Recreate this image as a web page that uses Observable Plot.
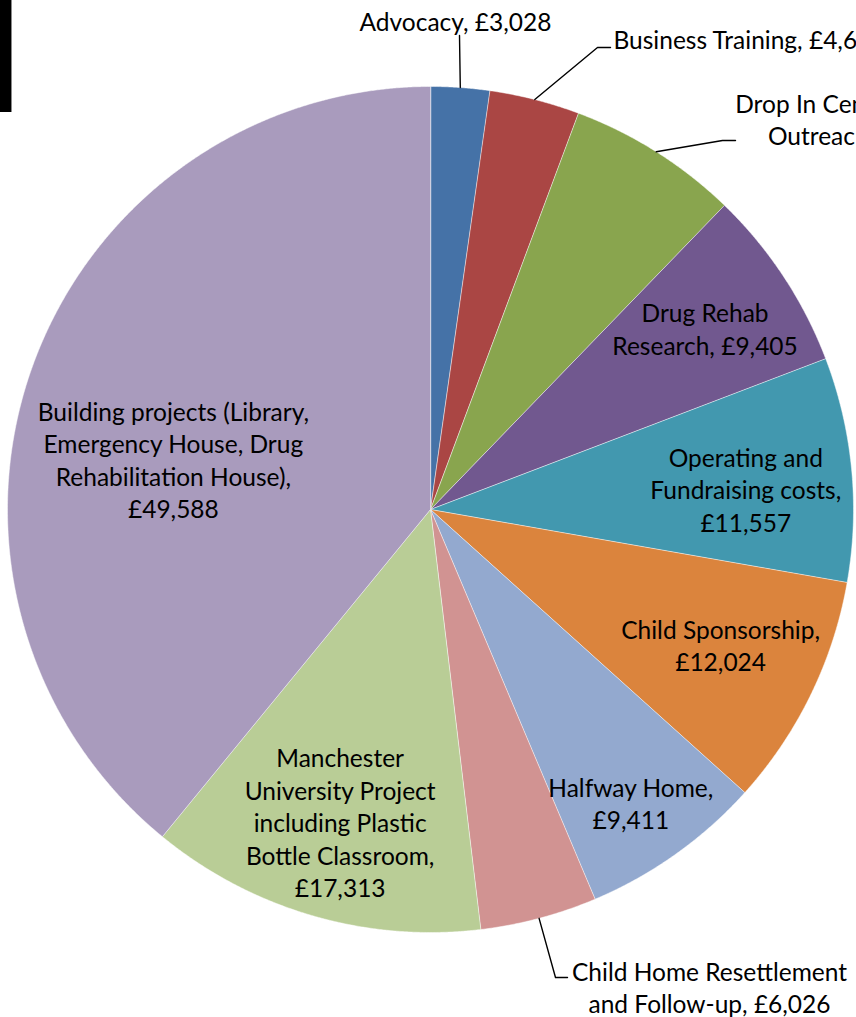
<!DOCTYPE html>
<html><head><meta charset="utf-8">
<script src="https://cdn.jsdelivr.net/npm/d3@7"></script>
<script src="https://cdn.jsdelivr.net/npm/@observablehq/plot@0.6"></script>
<style>
html,body{margin:0;padding:0;overflow:hidden;background:#fff;}
#chart{position:relative;width:856px;height:1017px;overflow:hidden;}
#bar{position:absolute;left:0;top:0;width:11px;height:112px;background:#000;border-right:1px solid #8a8a8a;z-index:2;}
#chart svg{overflow:hidden;}
</style></head><body>
<div id="chart"><div id="bar"></div></div>
<script>
// ---- data (clockwise from 12 o'clock) ----
const categories = [
  "Advocacy",
  "Business Training",
  "Drop In Centre & Street Outreach",
  "Drug Rehab Research",
  "Operating and Fundraising costs",
  "Child Sponsorship",
  "Halfway Home",
  "Child Home Resettlement and Follow-up",
  "Manchester University Project including Plastic Bottle Classroom",
  "Building projects (Library, Emergency House, Drug Rehabilitation House)"
];
// slice sizes (the labelled amounts; the last slice is drawn larger than its label)
const values = [3028, 4650, 8832, 9405, 11557, 12024, 9411, 6026, 17313, 52750];
// data label texts as printed on the chart
const labels = [
  "Advocacy, £3,028",
  "Business Training, £4,650",
  "Drop In Centre & Street\nOutreach, £8,832",
  "Drug Rehab\nResearch, £9,405",
  "Operating and\nFundraising costs,\n£11,557",
  "Child Sponsorship,\n£12,024",
  "Halfway Home,\n£9,411",
  "Child Home Resettlement\nand Follow-up, £6,026",
  "Manchester\nUniversity Project\nincluding Plastic\nBottle Classroom,\n£17,313",
  "Building projects (Library,\nEmergency House, Drug\nRehabilitation House),\n£49,588"
];
const colors = ["#4572A7","#AA4644","#89A54E","#71588F","#4298AF","#DB843D","#93A9CF","#D19392","#B9CD96","#A99BBD"];

// ---- layout ----
const W = 856, H = 1017, CX = 430, CY = 509, R = 423;
const FS = 24.5, LH = 32.5;
// inside labels: angle nudge (deg) from the slice middle, distance from centre
// outside labels: label point (page px), leader path points after the rim point (page px)
const labelLayout = [
  {out: true, anchor: "middle", x: 455, y: 20, leader: [[459, 35]]},
  {out: true, anchor: "start", x: 613, y: 38, leader: [[597, 47], [610, 47]]},
  {out: true, anchor: "middle", x: 862, y: 118, leader: [[722, 140], [735, 140]]},
  {dA: 0, r: 329},
  {dA: 1.7, r: 316},
  {dA: -1.0, r: 320},
  {dA: 1.1, r: 355},
  {out: true, anchor: "middle", x: 709, y: 986, leader: [[555, 977], [567, 977]]},
  {dA: -0.1, r: 325},
  {dA: -8.6, r: 262}
];
const px = ([x, y]) => ({x: x - CX, y: CY - y});
const rad = (a) => a * Math.PI / 180;

const total = d3.sum(values);
let acc = 0;
const slices = values.map((v, i) => {
  const a0 = acc / total * 360; acc += v; const a1 = acc / total * 360;
  return {i, cat: categories[i], a0, a1, mid: (a0 + a1) / 2};
});
const wedgePts = [];
for (const s of slices) {
  wedgePts.push({cat: s.cat, x: 0, y: 0});
  const n = Math.max(2, Math.ceil((s.a1 - s.a0) / 0.2));
  for (let k = 0; k <= n; k++) {
    const a = rad(s.a0 + (s.a1 - s.a0) * k / n);
    wedgePts.push({cat: s.cat, x: R * Math.sin(a), y: R * Math.cos(a)});
  }
}
const textData = [], leaderPts = [];
slices.forEach((s, i) => {
  const L = labelLayout[i];
  if (L.out) {
    const p = px([L.x, L.y]);
    textData.push({text: labels[i], x: p.x, y: p.y, anchor: L.anchor});
    const a = rad(s.mid);
    leaderPts.push({k: i, x: R * Math.sin(a), y: R * Math.cos(a)});
    for (const q of L.leader) leaderPts.push({k: i, ...px(q)});
  } else {
    const a = rad(s.mid + L.dA);
    textData.push({text: labels[i], x: L.r * Math.sin(a), y: L.r * Math.cos(a), anchor: "middle"});
  }
});
const textMark = (anchor) => Plot.text(textData.filter(d => d.anchor === anchor), {
  x: "x", y: "y", text: "text", textAnchor: anchor, lineAnchor: "middle",
  fontSize: FS, lineHeight: LH / FS, fill: "#000"
});

const chart = Plot.plot({
  width: W, height: H, margin: 0,
  style: {fontFamily: "Lato, 'Open Sans', sans-serif", background: "#fff"},
  x: {domain: [-CX, W - CX], range: [0, W], axis: null},
  y: {domain: [CY - H, CY], range: [H, 0], axis: null},
  color: {domain: categories, range: colors},
  marks: [
    Plot.line(wedgePts, {x: "x", y: "y", z: "cat", fill: "cat", stroke: "#fff", strokeWidth: 0.8, strokeOpacity: 0.6, curve: "linear-closed"}),
    Plot.line(leaderPts, {x: "x", y: "y", z: "k", stroke: "#000", strokeWidth: 1.4}),
    textMark("middle"),
    textMark("start")
  ]
});
document.getElementById("chart").appendChild(chart);
</script>
</body></html>
